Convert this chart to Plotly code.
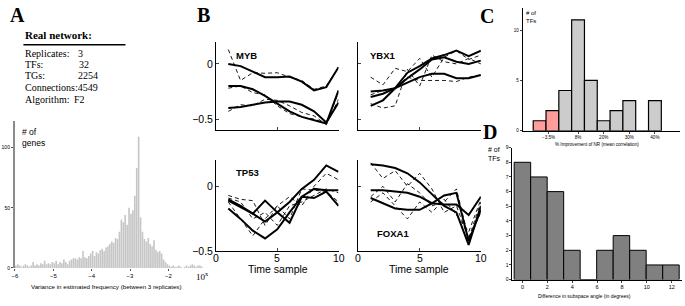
import plotly.graph_objects as go

W, H = 685, 306


def fx(p):
    return p / W


def fy(p):
    return 1 - p / H


SANS = "Liberation Sans, Arial, sans-serif"
SERIF = "Liberation Serif, Times New Roman, serif"

# ---------------- Panel A data ----------------
network_labels = ["Replicates:", "TFs:", "TGs:", "Connections:", "Algorithm:"]
network_values = ["3", "32", "2254", "4549", "F2"]

varA_bin_start = -6.0
varA_bin_width = 0.05
varA_counts = [
    2, 3, 2, 1, 2, 3, 2, 1, 2, 5,
    2, 3, 2, 4, 3, 6, 3, 4, 3, 5,
    4, 6, 3, 5, 4, 7, 5, 3, 6, 7,
    8, 8, 7, 9, 8, 14, 9, 8, 10, 12,
    14, 10, 13, 12, 15, 16, 14, 17, 18, 20,
    22, 21, 25, 24, 30, 40, 38, 44, 36, 50,
    45, 48, 60, 83, 109, 42, 30, 24, 22, 25,
    20, 18, 23, 15, 13, 14, 12, 7, 5, 3,
    2, 1, 2, 1, 1, 2, 1, 0, 1, 2, 1, 2, 3, 2, 1, 2, 2, 1,
]
varA_ticks = [-6, -5, -4, -3, -2]
varA_yticks = [0, 50, 100]

# ---------------- Panel B data ----------------
time_samples = [1, 2, 3, 4, 5, 6, 7, 8, 9, 10]
time_ticks = [0, 5, 10]

myb_solid = [
    [0.0, -0.02, -0.07, -0.12, -0.12, -0.115, -0.16, -0.24, -0.21, -0.03],
    [-0.2, -0.2, -0.23, -0.29, -0.36, -0.43, -0.48, -0.51, -0.54, -0.24],
    [-0.4, -0.39, -0.37, -0.35, -0.34, -0.34, -0.37, -0.43, -0.53, -0.35],
]
myb_dashed = [
    [0.13, -0.15, -0.08, -0.085, -0.08, -0.12, -0.15, -0.23, -0.2, -0.03],
    [-0.22, -0.2, -0.26, -0.28, -0.38, -0.45, -0.48, -0.5, -0.54, -0.26],
    [-0.43, -0.37, -0.38, -0.32, -0.33, -0.38, -0.44, -0.47, -0.55, -0.32],
]

ybx1_solid = [
    [-0.25, -0.24, -0.22, -0.08, -0.02, 0.05, 0.08, 0.12, 0.07, 0.12],
    [-0.30, -0.27, -0.22, -0.13, -0.05, 0.04, 0.06, 0.02, 0.0, 0.03],
    [-0.38, -0.33, -0.22, -0.17, -0.12, -0.09, -0.09, -0.13, -0.13, -0.10],
]
ybx1_dashed = [
    [-0.12, -0.19, -0.04, -0.07, 0.05, -0.12, 0.06, 0.12, 0.04, 0.08],
    [-0.36, -0.40, -0.38, -0.05, -0.2, 0.08, 0.02, 0.0, 0.05, 0.0],
    [-0.28, -0.24, -0.22, -0.12, -0.15, -0.15, -0.15, -0.16, -0.12, -0.10],
]

tp53_solid = [
    [-0.11, -0.16, -0.21, -0.27, -0.2, -0.12, -0.02, 0.05, 0.16, 0.11],
    [-0.10, -0.15, -0.21, -0.11, -0.20, -0.28, -0.08, -0.09, -0.04, -0.15],
    [-0.17, -0.25, -0.34, -0.40, -0.33, -0.2, -0.08, -0.02, -0.03, -0.03],
]
tp53_dashed = [
    [-0.07, -0.10, -0.11, -0.30, -0.15, -0.25, -0.02, -0.03, -0.04, -0.12],
    [-0.12, -0.25, -0.38, -0.25, -0.15, -0.08, -0.15, 0.0, 0.10, 0.05],
    [-0.09, -0.12, -0.25, -0.2, -0.3, -0.15, -0.12, -0.07, -0.02, -0.05],
]

foxa1_solid = [
    [0.17, 0.16, 0.14, 0.10, 0.03, -0.06, -0.15, -0.20, -0.45, -0.15],
    [-0.03, -0.03, -0.04, -0.05, -0.08, -0.13, -0.07, -0.05, -0.42, -0.18],
    [-0.09, -0.13, -0.17, -0.18, -0.18, -0.13, -0.14, -0.14, -0.22, -0.08],
]
foxa1_dashed = [
    [0.18, 0.06, 0.12, 0.0, 0.1, -0.02, -0.20, -0.15, -0.40, -0.12],
    [-0.08, 0.0, -0.12, 0.02, -0.05, -0.15, -0.12, -0.02, -0.40, -0.2],
    [-0.12, -0.05, -0.15, -0.25, -0.12, -0.20, -0.10, -0.22, -0.35, -0.1],
]

# ---------------- Panel C data ----------------
impC_pos = [0, 1, 2, 3, 4, 5, 6, 7, 8, 9]
impC_counts = [1, 2, 4, 11, 5, 1, 2, 3, 0, 3]
impC_colors = ["#ff9c9c", "#ff9c9c"] + ["#cccccc"] * 8
impC_tickpos = [0.7, 3, 5, 7, 9]
impC_ticktext = ["\u22123.5%", "8%", "20%", "30%", "40%"]

# ---------------- Panel D data ----------------
angD_centers = [0, 1.326, 2.652, 3.978, 5.304, 6.63, 7.956, 9.282, 10.608, 11.934]
angD_width = 1.326
angD_counts = [8, 7, 6, 2, 0, 2, 3, 2, 1, 1]
angD_ticks = [0, 2, 4, 6, 8, 10, 12]

fig = go.Figure()

# Panel A histogram
varA_centers = [varA_bin_start + varA_bin_width * (i + 0.5) for i in range(len(varA_counts))]
fig.add_trace(go.Bar(x=varA_centers, y=varA_counts, width=varA_bin_width * 0.85,
                     marker=dict(color="#c6c6c6", line=dict(width=0)),
                     xaxis="x", yaxis="y", showlegend=False))

# Panel B lines
panels = [
    (myb_solid, myb_dashed, "x2", "y2"),
    (ybx1_solid, ybx1_dashed, "x3", "y3"),
    (tp53_solid, tp53_dashed, "x4", "y4"),
    (foxa1_solid, foxa1_dashed, "x5", "y5"),
]
for solid, dashed, xa, ya in panels:
    for s in dashed:
        fig.add_trace(go.Scatter(x=time_samples, y=s, mode="lines",
                                 line=dict(color="black", width=0.9, dash="4px,3px"),
                                 xaxis=xa, yaxis=ya, showlegend=False))
    for s in solid:
        fig.add_trace(go.Scatter(x=time_samples, y=s, mode="lines",
                                 line=dict(color="black", width=2),
                                 xaxis=xa, yaxis=ya, showlegend=False))

# Panel C
fig.add_trace(go.Bar(x=impC_pos, y=impC_counts, width=1.0,
                     marker=dict(color=impC_colors, line=dict(color="black", width=1.2)),
                     xaxis="x6", yaxis="y6", showlegend=False))

# Panel D
fig.add_trace(go.Bar(x=angD_centers, y=angD_counts, width=angD_width,
                     marker=dict(color="#808080", line=dict(color="black", width=1)),
                     xaxis="x7", yaxis="y7", showlegend=False))

base_ax = dict(showgrid=False, zeroline=False, fixedrange=True)

layout = dict(
    width=W, height=H,
    margin=dict(l=0, r=0, t=0, b=0),
    paper_bgcolor="white", plot_bgcolor="rgba(0,0,0,0)",
    font=dict(family=SANS, color="black"),
    showlegend=False,
    hovermode=False,
)

# A axes
layout["xaxis"] = dict(base_ax, domain=[fx(12), fx(205)], range=[-6, -0.99], anchor="y",
                       tickvals=varA_ticks, ticktext=["\u2212" + str(abs(v)) for v in varA_ticks],
                       ticks="outside", ticklen=2, tickcolor="#555", showline=False,
                       tickfont=dict(size=6, family=SANS))
layout["yaxis"] = dict(base_ax, domain=[fy(273), fy(122)], range=[0, 121.8], anchor="x",
                       tickvals=varA_yticks, ticks="outside", ticklen=2, tickcolor="#555",
                       showline=True, linecolor="#8a8a8a", linewidth=2,
                       tickfont=dict(size=5, family=SANS))


# B axes
def b_x(dom, anchor):
    return dict(base_ax, domain=dom, range=[0, 10], anchor=anchor, tickvals=time_ticks,
                ticks="inside", ticklen=3, showline=True, linecolor="black", linewidth=1,
                showticklabels=False)


def b_y(dom, rng, anchor, labels):
    return dict(base_ax, domain=dom, range=rng, anchor=anchor, tickvals=[-0.5, 0],
                ticktext=["\u22120.5", "0"], ticks="inside", ticklen=3, showline=True,
                linecolor="black", linewidth=1, showticklabels=labels,
                tickfont=dict(size=10.5, family=SANS))


layout["xaxis2"] = b_x([fx(214), fx(337)], "y2")
layout["yaxis2"] = b_y([fy(131), fy(40)], [-0.6, 0.2], "x2", True)
layout["xaxis3"] = b_x([fx(357), fx(480)], "y3")
layout["yaxis3"] = b_y([fy(131), fy(40)], [-0.6, 0.2], "x3", False)
layout["xaxis4"] = b_x([fx(214), fx(337)], "y4")
layout["yaxis4"] = b_y([fy(256), fy(162)], [-0.5, 0.2], "x4", True)
layout["xaxis5"] = b_x([fx(357), fx(480)], "y5")
layout["yaxis5"] = b_y([fy(256), fy(162)], [-0.5, 0.2], "x5", False)

# C axes
layout["xaxis6"] = dict(base_ax, domain=[fx(522), fx(680)], range=[-1.32, 10.96], anchor="y6",
                        tickvals=impC_tickpos, ticktext=impC_ticktext, ticks="outside", ticklen=2,
                        showline=True, linecolor="black", linewidth=1,
                        tickfont=dict(size=4.6, family=SANS))
layout["yaxis6"] = dict(base_ax, domain=[fy(131.7), fy(5)], range=[0, 12.2], anchor="x6",
                        tickvals=[0, 5, 10], ticks="outside", ticklen=2,
                        showline=True, linecolor="black", linewidth=1,
                        tickfont=dict(size=4.5, family=SANS))

# D axes
layout["xaxis7"] = dict(base_ax, domain=[fx(511.7), fx(681.7)], range=[-0.8, 12.8], anchor="y7",
                        tickvals=angD_ticks, ticks="outside", ticklen=2,
                        showline=True, linecolor="black", linewidth=1,
                        tickfont=dict(size=5.5, family=SANS))
layout["yaxis7"] = dict(base_ax, domain=[fy(285), fy(149)], range=[0, 9], anchor="x7",
                        tickvals=list(range(10)), ticks="outside", ticklen=2,
                        showline=True, linecolor="black", linewidth=1,
                        tickfont=dict(size=5, family=SANS))

ann = []


def txt(text, x, y, size, family=SANS, xanchor="left", bold=False):
    t = "<b>%s</b>" % text if bold else text
    ann.append(dict(text=t, x=fx(x), y=fy(y), xref="paper", yref="paper",
                    xanchor=xanchor, yanchor="middle", showarrow=False,
                    font=dict(size=size, family=family, color="black")))


# panel letters
txt("A", 5, 12, 20, SERIF, bold=True)
txt("B", 193, 12, 20, SERIF, bold=True)
txt("C", 477, 13.5, 20, SERIF, bold=True)
txt("D", 480, 132.5, 20, SERIF, bold=True)

# network text
txt("Real network:", 20, 33, 11, SERIF, bold=True)
row_y = [52, 63.5, 75, 87, 99]
val_x = [73, 74, 73, None, 69]
for lab, val, yy, vx in zip(network_labels, network_values, row_y, val_x):
    if vx is None:
        txt(lab + val, 20, yy, 10, SERIF)
    else:
        txt(lab, 20, yy, 10, SERIF)
        txt(val, vx, yy, 10, SERIF)

txt("# of", 17, 133, 8.5)
txt("genes", 17, 144, 8.5)
txt("10<sup>x</sup>", 192, 281, 9, SERIF)
txt("Variance in estimated frequency (between 3 replicates)", 104, 292, 6.2, xanchor="center")

# B labels
txt("MYB", 232, 54, 9.5, bold=True)
txt("YBX1", 367, 54, 9.5, bold=True)
txt("TP53", 232, 175, 9.5, bold=True)
txt("FOXA1", 374, 237, 9.5, bold=True)
# bottom-row time tick labels placed through the data axes
for xa in ["x4", "x5"]:
    for tv in time_ticks:
        ann.append(dict(text=str(tv), x=tv, y=fy(262.5), xref=xa, yref="paper",
                        xanchor="center", yanchor="middle", showarrow=False,
                        font=dict(size=10.5, family=SANS, color="black")))
txt("Time sample", 276, 274, 10.5, xanchor="center")
txt("Time sample", 418, 274, 10.5, xanchor="center")

# C labels
txt("# of", 523, 10, 6)
txt("TFs", 523, 18.5, 6)
txt("% Improvement of NR (mean correlation)", 596.5, 146, 4.6, xanchor="center")

# D labels
txt("# of", 485, 151, 7)
txt("TFs", 485, 160, 7)
txt("Difference in subspace angle (in degrees)", 584, 301.5, 5, xanchor="center")

layout["annotations"] = ann
layout["shapes"] = [dict(type="line", xref="paper", yref="paper",
                         x0=fx(20.5), x1=fx(123), y0=fy(43), y1=fy(43),
                         line=dict(color="black", width=1.5))]

fig.update_layout(**layout)
fig.write_html("out.html", config={"displayModeBar": False, "staticPlot": True},
               post_script="document.body.style.margin='0';document.body.style.overflow='hidden';")
